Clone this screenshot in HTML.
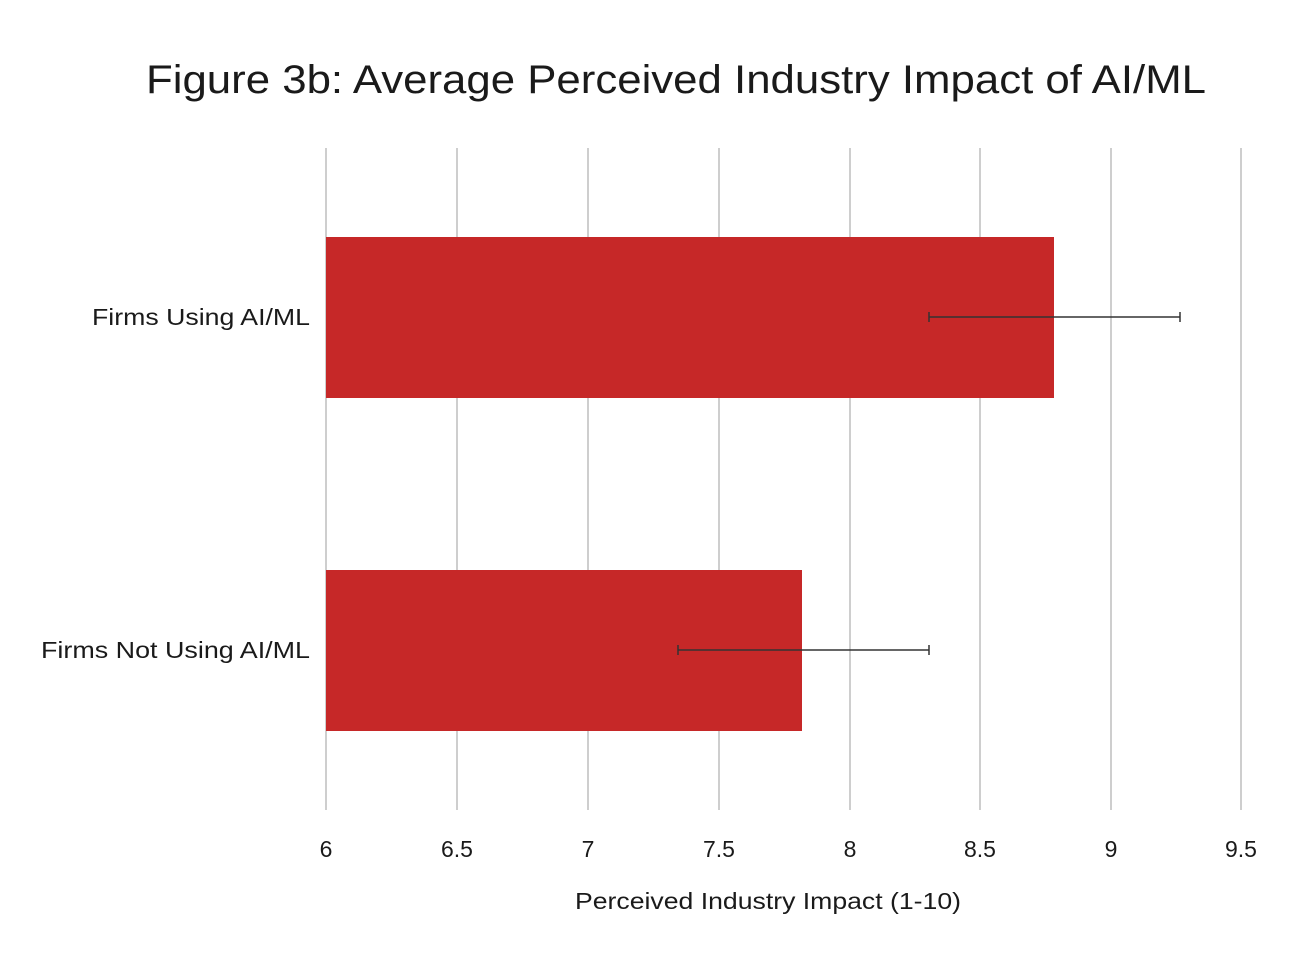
<!DOCTYPE html>
<html><head><meta charset="utf-8"><style>
html,body{margin:0;padding:0;background:#fff;}
svg{display:block;font-family:"Liberation Sans",sans-serif;}
</style></head><body>
<svg width="1300" height="974" viewBox="0 0 1300 974">
<rect width="1300" height="974" fill="#fff"/>
<text x="146" y="93" font-size="40" fill="#1a1a1a" textLength="1060" lengthAdjust="spacingAndGlyphs">Figure 3b: Average Perceived Industry Impact of AI/ML</text>
<g stroke="#bdbdbd" stroke-width="1.5">
<line x1="326" y1="148" x2="326" y2="810"/>
<line x1="457" y1="148" x2="457" y2="810"/>
<line x1="588" y1="148" x2="588" y2="810"/>
<line x1="719" y1="148" x2="719" y2="810"/>
<line x1="850" y1="148" x2="850" y2="810"/>
<line x1="980" y1="148" x2="980" y2="810"/>
<line x1="1111" y1="148" x2="1111" y2="810"/>
<line x1="1241" y1="148" x2="1241" y2="810"/>
</g>
<rect x="326" y="237" width="728" height="161" fill="#c62828"/>
<rect x="326" y="570" width="476" height="161" fill="#c62828"/>
<g stroke="#333" stroke-width="1.5">
<line x1="929" y1="317" x2="1180" y2="317"/>
<line x1="929" y1="312" x2="929" y2="322"/>
<line x1="1180" y1="312" x2="1180" y2="322"/>
<line x1="678" y1="650" x2="929" y2="650"/>
<line x1="678" y1="645" x2="678" y2="655"/>
<line x1="929" y1="645" x2="929" y2="655"/>
</g>
<g font-size="23" fill="#1a1a1a">
<text x="92" y="325" textLength="218" lengthAdjust="spacingAndGlyphs">Firms Using AI/ML</text>
<text x="41" y="658" textLength="269" lengthAdjust="spacingAndGlyphs">Firms Not Using AI/ML</text>
<text x="575" y="909" textLength="386" lengthAdjust="spacingAndGlyphs">Perceived Industry Impact (1-10)</text>
</g>
<g font-size="23" fill="#1a1a1a" text-anchor="middle">
<text x="326" y="857">6</text>
<text x="457" y="857">6.5</text>
<text x="588" y="857">7</text>
<text x="719" y="857">7.5</text>
<text x="850" y="857">8</text>
<text x="980" y="857">8.5</text>
<text x="1111" y="857">9</text>
<text x="1241" y="857">9.5</text>
</g>
</svg>
</body></html>
